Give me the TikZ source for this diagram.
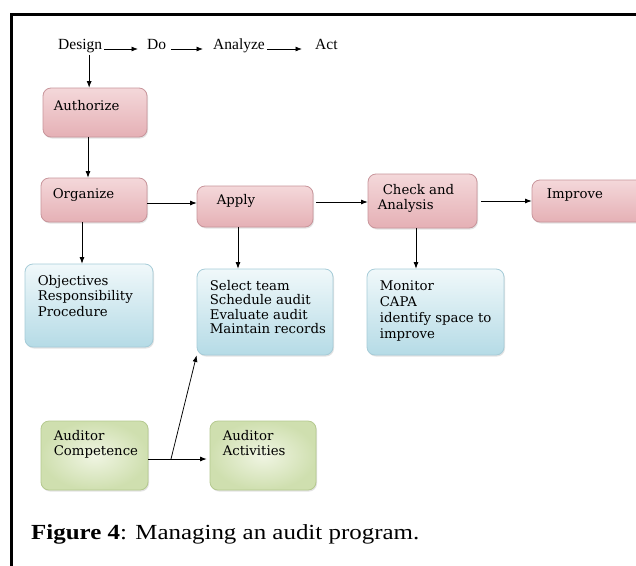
\documentclass[tikz,border=0pt]{standalone}
\usepackage{fontspec}
\setmainfont{Liberation Serif}
\newfontfamily\boxfont{DejaVu Serif}
\newfontfamily\capfont[FakeStretch=1.16]{Liberation Serif}
\usetikzlibrary{arrows.meta,calc,shadows}
\definecolor{pinkT}{HTML}{F4D8DA}
\definecolor{pinkM}{HTML}{FBF0F0}
\definecolor{pinkB}{HTML}{E5B0B5}
\definecolor{pinkD}{HTML}{C8959B}
\definecolor{blueT}{HTML}{F0F8FA}
\definecolor{blueB}{HTML}{B5DBE6}
\definecolor{blueD}{HTML}{A6CCD8}
\definecolor{grnI}{HTML}{F0F5E3}
\definecolor{grnO}{HTML}{CFDFAF}
\definecolor{grnD}{HTML}{B5C98F}
\begin{document}
\begin{tikzpicture}[x=1pt,y=-1pt,
  box/.style={rectangle, rounded corners=8pt, line width=0.8pt, inner sep=0pt,
    drop shadow={shadow xshift=1pt, shadow yshift=-1.5pt, opacity=0.22}},
  pinkbox/.style={box, draw=pinkD, top color=pinkT, middle color=pinkM, bottom color=pinkB},
  bluebox/.style={box, draw=blueD, top color=blueT, bottom color=blueB},
  greenbox/.style={box, draw=grnD, shading=radial, inner color=grnI, outer color=grnO},
  txt/.style={font=\boxfont\fontsize{13.3}{15.5}\selectfont, align=left, inner sep=0pt, anchor=north west},
  top/.style={font=\fontsize{15.5}{18}\selectfont, inner sep=2pt, anchor=base west},
  arr/.style={-{Latex[length=6.5pt,width=5pt]}, line width=0.75pt}]
\useasboundingbox (0,0) rectangle (636,565);
\fill[white] (0,0) rectangle (636,565);
\draw[line width=3pt] (11,566) -- (11,14) -- (640,14);

% top row
\node[top] (design) at (56,49) {Design};
\node[top] (do) at (145,49) {Do};
\node[top] (analyze) at (211,49) {Analyze};
\node[top] (act) at (313,49) {Act};
\draw[arr, shorten >=7pt] (design.base east) -- (do.base west);
\draw[arr, shorten <=3pt, shorten >=8pt] (do.base east) -- (analyze.base west);
\draw[arr, shorten >=11pt] (analyze.base east) -- (act.base west);

% boxes
\node[pinkbox, minimum width=104pt, minimum height=49pt] (auth) at (95,112.5) {};
\node[pinkbox, minimum width=106pt, minimum height=44pt] (org) at (94,200) {};
\node[pinkbox, minimum width=116pt, minimum height=41pt] (apply) at (255,206.5) {};
\node[pinkbox, minimum width=109pt, minimum height=54pt] (check) at (422.5,201) {};
\node[pinkbox, minimum width=120pt, minimum height=42pt] (improve) at (592,201) {};
\node[bluebox, minimum width=128pt, minimum height=83pt] (obj) at (89,305.5) {};
\node[bluebox, minimum width=136pt, minimum height=86pt] (sel) at (265,312) {};
\node[bluebox, minimum width=137pt, minimum height=86pt] (mon) at (435.5,312) {};
\node[greenbox, minimum width=107pt, minimum height=69pt] (comp) at (94.5,455.5) {};
\node[greenbox, minimum width=106pt, minimum height=69pt] (act2) at (263,455.5) {};

% texts
\node[txt] (authT) at ($(auth.north west)+(11,12.5)$) {Authorize};
\node[txt] (orgT) at ($(org.north west)+(12,10.5)$) {Organize};
\node[txt] (applyT) at ($(apply.north west)+(20,8.5)$) {Apply};
\node[txt] (checkT) at ($(check.north west)+(10,10.5)$) {\hspace*{5pt}Check and\\Analysis};
\node[txt] (improveT) at ($(improve.north west)+(15,8.5)$) {Improve};
\node[txt] (objT) at ($(obj.north west)+(13,11.5)$) {Objectives\\Responsibility\\Procedure};
\node[txt, font=\boxfont\fontsize{13.3}{14.5}\selectfont] (selT) at ($(sel.north west)+(13,11.5)$) {Select team\\Schedule audit\\Evaluate audit\\Maintain records};
\node[txt, font=\boxfont\fontsize{13.3}{16.3}\selectfont] (monT) at ($(mon.north west)+(13,11.5)$) {Monitor\\CAPA\\identify space to\\improve};
\node[txt] (compT) at ($(comp.north west)+(13,9.5)$) {Auditor\\Competence};
\node[txt] (actT) at ($(act2.north west)+(13,9.5)$) {Auditor\\Activities};

% connectors
\draw[arr] ([xshift=9pt]design.south) -- ([xshift=9pt]design.south |- auth.north);
\draw[arr] ([xshift=-7pt]auth.south) -- ([xshift=-7pt]auth.south |- org.north);
\draw[arr] ([xshift=-12pt]org.south) -- ([xshift=-12pt]org.south |- obj.north);
\draw[arr] ([yshift=-3pt]org.east) -- ([yshift=-3pt]org.east -| apply.west);
\draw[arr] ([xshift=-17pt]apply.south) -- ([xshift=-17pt]apply.south |- sel.north);
\draw[arr, shorten <=3pt] ([yshift=4.5pt]apply.east) -- ([yshift=4.5pt]apply.east -| check.west);
\draw[arr, shorten <=4pt] (check.east) -- (improve.west);
\draw[arr] ([xshift=-6.5pt]check.south) -- ([xshift=-6.5pt]check.south |- mon.north);
\draw[arr, shorten >=3pt] ([yshift=-3.5pt]comp.east) -- ([yshift=-3.5pt]comp.east -| act2.west);
\coordinate (junc) at (171,459);
\draw[arr] (junc) -- (sel.south west);

% caption
\node[font=\capfont\fontsize{21.5}{24}\selectfont, anchor=base west, inner sep=0pt] (cap) at (31,539) {\textbf{Figure 4}: Managing an audit program.};
\end{tikzpicture}
\end{document}
